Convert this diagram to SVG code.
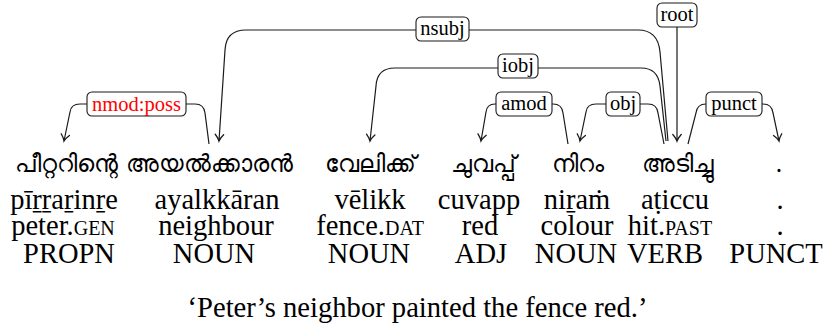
<svg xmlns="http://www.w3.org/2000/svg" width="829" height="329" viewBox="0 0 829 329">
  <style>
    .ml { font-family: "Noto Sans", "DejaVu Sans", sans-serif; font-size: 24px; fill: #000; text-anchor: middle; }
    .w { font-family: "Liberation Serif", "DejaVu Serif", serif; font-size: 28.5px; fill: #000; text-anchor: middle; }
    .sc { font-size: 20px; }
    .lbl { font-family: "Liberation Serif", "DejaVu Serif", serif; font-size: 20.5px; fill: #000; text-anchor: middle; }
    .red { fill: #ff0000; }
    .box { fill: #fff; stroke: #1a1a1a; stroke-width: 1.1; }
    .arc { fill: none; stroke: #1a1a1a; stroke-width: 1.2; }
    .arr { marker-end: url(#to); }
  </style>
  <defs>
    <marker id="to" markerUnits="userSpaceOnUse" viewBox="-8 -6 10 12" refX="0" refY="0" markerWidth="10" markerHeight="12" orient="auto">
      <path d="M -6.5,-4.2 C -4,-2 -1.5,-0.5 0,0 C -1.5,0.5 -4,2 -6.5,4.2" fill="none" stroke="#1a1a1a" stroke-width="1.3" stroke-linecap="round"/>
    </marker>
  </defs>

  <!-- tokens: script, transliteration, gloss, part of speech -->
  <g id="tok1">
    <text class="ml" x="66" y="172">പീറ്ററിന്റെ</text>
    <text class="w" x="64" y="209">pīṟṟaṟinṟe</text>
    <text class="w" x="63" y="235">peter.<tspan class="sc">GEN</tspan></text>
    <text class="w" x="69" y="263">PROPN</text>
  </g>
  <g id="tok2">
    <text class="ml" x="209" y="172">അയൽക്കാരൻ</text>
    <text class="w" x="217" y="209">ayalkkāran</text>
    <text class="w" x="216" y="235">neighbour</text>
    <text class="w" x="214" y="263">NOUN</text>
  </g>
  <g id="tok3">
    <text class="ml" x="370" y="172">വേലിക്ക്</text>
    <text class="w" x="370" y="209">vēlikk</text>
    <text class="w" x="370" y="235">fence.<tspan class="sc">DAT</tspan></text>
    <text class="w" x="369" y="263">NOUN</text>
  </g>
  <g id="tok4">
    <text class="ml" x="483" y="172">ചുവപ്പ്</text>
    <text class="w" x="479" y="209">cuvapp</text>
    <text class="w" x="480" y="235">red</text>
    <text class="w" x="481" y="263">ADJ</text>
  </g>
  <g id="tok5">
    <text class="ml" x="578" y="172">നിറം</text>
    <text class="w" x="577" y="209">niṟaṁ</text>
    <text class="w" x="577" y="235">colour</text>
    <text class="w" x="576" y="263">NOUN</text>
  </g>
  <g id="tok6">
    <text class="ml" x="678" y="172">അടിച്ചു</text>
    <text class="w" x="675" y="209">aṭiccu</text>
    <text class="w" x="670" y="235">hit.<tspan class="sc">PAST</tspan></text>
    <text class="w" x="665" y="263">VERB</text>
  </g>
  <g id="tok7">
    <text class="ml" x="779" y="172">.</text>
    <text class="w" x="780" y="209">.</text>
    <text class="w" x="780" y="235">.</text>
    <text class="w" x="776" y="263">PUNCT</text>
  </g>

  <!-- dependency arcs with their relation labels -->
  <g id="edges">
    <path class="arc arr" d="M 209,144 L 205,113 Q 204,104 195,104 L 80,104 Q 71,104 70,112 L 64,141"/>
    <path class="arc arr" d="M 668,141 L 660,52 Q 658,30 638,30 L 246,30 Q 226,30 225,50 L 219,141"/>
    <path class="arc arr" d="M 666,141 L 660,86 Q 658,68 641,68 L 395,68 Q 377,68 376,86 L 370,141"/>
    <path class="arc arr" d="M 568,144 L 563,113 Q 562,104 553,104 L 495,104 Q 487,104 486,112 L 481,141"/>
    <path class="arc arr" d="M 664,144 L 658,113 Q 657,104 648,104 L 596,104 Q 587,104 586,112 L 580,141"/>
    <path class="arc arr" d="M 688,144 L 696,113 Q 697,104 706,104 L 763,104 Q 772,104 773,113 L 779,141"/>
    <path class="arc arr" d="M 677,27 L 677,141"/>

    <g id="lbl-nmod-poss">
      <rect class="box" x="87" y="92" width="99" height="24" rx="5"/>
      <text class="lbl red" x="136.5" y="110.5">nmod:poss</text>
    </g>
    <g id="lbl-nsubj">
      <rect class="box" x="416" y="17" width="53" height="24" rx="5"/>
      <text class="lbl" x="442.5" y="35">nsubj</text>
    </g>
    <g id="lbl-iobj">
      <rect class="box" x="498" y="54" width="40" height="24" rx="5"/>
      <text class="lbl" x="518" y="72">iobj</text>
    </g>
    <g id="lbl-amod">
      <rect class="box" x="496" y="92" width="56" height="24" rx="5"/>
      <text class="lbl" x="524" y="110">amod</text>
    </g>
    <g id="lbl-obj">
      <rect class="box" x="606" y="92" width="34" height="24" rx="5"/>
      <text class="lbl" x="623" y="110">obj</text>
    </g>
    <g id="lbl-root">
      <rect class="box" x="657" y="3" width="40" height="24" rx="5"/>
      <text class="lbl" x="677" y="21">root</text>
    </g>
    <g id="lbl-punct">
      <rect class="box" x="706" y="92" width="56" height="24" rx="5"/>
      <text class="lbl" x="734" y="110">punct</text>
    </g>
  </g>

  <!-- free translation -->
  <text class="w" x="417.5" y="317" style="font-size:28.6px">‘Peter’s neighbor painted the fence red.’</text>
</svg>
